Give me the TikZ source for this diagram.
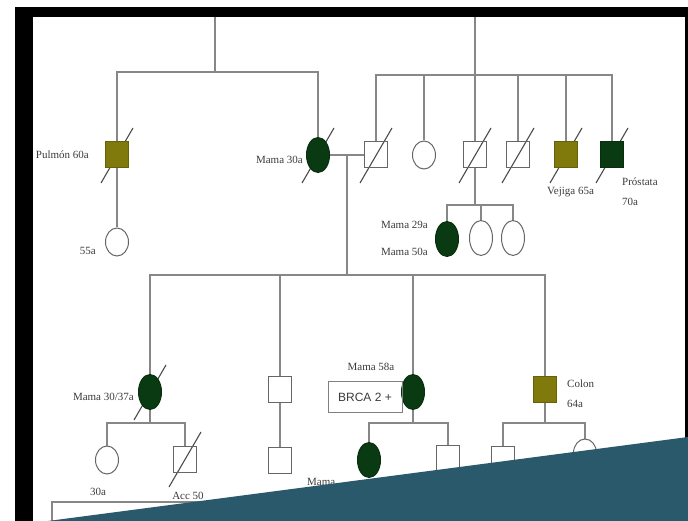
\documentclass[tikz,border=0pt]{standalone}
\usepackage{fontspec}
\setmainfont{Liberation Serif}
\newfontfamily\boxfont{Liberation Sans}
\usepackage{xcolor}
\usetikzlibrary{shapes.geometric}

\definecolor{affgreen}{RGB}{10,58,18}
\definecolor{affolive}{RGB}{128,122,12}
\definecolor{linegray}{RGB}{135,135,135}
\definecolor{txtgray}{RGB}{60,60,60}
\definecolor{slide}{RGB}{43,89,108}

\pgfdeclarelayer{back}
\pgfsetlayers{back,main}

\begin{document}
\begin{tikzpicture}[x=1pt,y=-1pt,
	male/.style={draw=black!60, rectangle, minimum width=23pt, minimum height=26pt, inner sep=0pt, line width=1pt},
	female/.style={draw=black!60, ellipse, minimum width=23pt, minimum height=28pt, inner sep=0pt, line width=1pt},
	tall/.style={minimum height=35pt},
	greenfill/.style={fill=affgreen, draw=affgreen!80!black},
	olivefill/.style={fill=affolive, draw=affolive!80!black},
	ped/.style={draw=linegray, line width=1.1pt},
	slash/.style={draw=black!70, line width=1.1pt},
	lbl/.style={font=\fontsize{11}{12}\selectfont, text=txtgray, inner sep=1pt}
]

\useasboundingbox (0,0) rectangle (688,521);

\begin{pgfonlayer}{back}
\fill[white] (0,0) rectangle (688,521);
\fill[black] (15,7) rectangle (688,17);
\fill[black] (15,7) rectangle (33,521);
\fill[black] (685,7) rectangle (688,521);
\end{pgfonlayer}

% first generation of children
\node[male, olivefill] (p1) at (117,155) {};
\node[female] (c55) at (117,242) {};
\node[female, greenfill, tall] (m30) at (318,155) {};
\node[male] (u1) at (376,155) {};
\node[female] (u2) at (424,155) {};
\node[male] (u3) at (475,155) {};
\node[male] (u4) at (518,155) {};
\node[male, olivefill] (u5) at (566,155) {};
\node[male, greenfill] (u6) at (612,155) {};

\node[female, greenfill, tall] (k1) at (447,239) {};
\node[female, tall] (k2) at (481,238) {};
\node[female, tall] (k3) at (513,238) {};

% second generation
\node[female, greenfill, tall] (g1) at (150,392) {};
\node[male] (g2) at (280,389) {};
\node[female, greenfill, tall] (g3) at (413,392) {};
\node[male, olivefill] (g4) at (545,389) {};

\node[female] (h1) at (107,460) {};
\node[male] (h2) at (185,459) {};
\node[male] (h3) at (280,460) {};
\node[female, greenfill, tall] (h4) at (369,460) {};
\node[male] (h5) at (448,458) {};
\node[male] (h6) at (503,459) {};
\node[female] (h7) at (585,453) {};

\coordinate (gp1) at (215,17);
\coordinate (gp2) at (475,17);
\coordinate (s1) at (215,72);
\coordinate (s2) at (475,75);
\coordinate (d1) at (347,155);
\coordinate (s3) at (347,275);
\coordinate (s4) at (475,205);
\coordinate (s5) at (150,423);
\coordinate (s6) at (413,423);
\coordinate (s7) at (545,423);

\begin{pgfonlayer}{back}
\draw[ped] (gp1) -- (s1);
\draw[ped] (p1.north) |- (s1) -| (m30.north);
\draw[ped] (p1.south) -- (c55.north);
\draw[ped] (gp2) -- (u3.north);
\draw[ped] (u1.north) |- (s2) -| (u6.north);
\foreach \n in {u2,u4,u5}
	\draw[ped] (\n.north) -- (\n.north |- s2);
\draw[ped] (m30.east) -- (u1.west);
\draw[ped] (d1) -- (s3);
\draw[ped] (g1.north) |- (s3) -| (g4.north);
\foreach \n in {g2,g3}
	\draw[ped] (\n.north) -- (\n.north |- s3);
\draw[ped] (u3.south) -- (s4);
\draw[ped] (k1.north) |- (s4) -| (k3.north);
\draw[ped] (k2.north) -- (k2.north |- s4);
\draw[ped] (g1.south) -- (s5);
\draw[ped] (h1.north) |- (s5) -| (h2.north);
\draw[ped] (g2.south) -- (h3.north);
\draw[ped] (g3.south) -- (s6);
\draw[ped] (h4.north) |- (s6) -| (h5.north);
\draw[ped] (g4.south) -- (s7);
\draw[ped] (h6.north) |- (s7) -| (h7.north);

% deceased
\foreach \n in {p1,m30,u1,u3,u4,u5,u6,g1,h2}
	\draw[slash] ([shift={(-16,28)}]\n.center) -- ([shift={(16,-27)}]\n.center);

\draw[ped] (52,521) |- (300,502);
\end{pgfonlayer}

\node[lbl, anchor=east] (t1) at (90,155) {Pulmón 60a};
\node[lbl, anchor=east] (t2) at (97,251) {55a};
\node[lbl, anchor=east] (t3) at (304,160) {Mama 30a};
\node[lbl, anchor=east] (t4) at (429,225) {Mama 29a};
\node[lbl, anchor=east] (t5) at (429,252) {Mama 50a};
\node[lbl, anchor=west] (t6) at (546,192) {Vejiga 65a};
\node[lbl, anchor=west] (t7) at (621,182) {Próstata};
\node[lbl, anchor=west] (t8) at (621,202) {70a};
\node[lbl, anchor=east] (t9) at (135,397) {Mama 30/37a};
\node[lbl] (t10) at (371,367) {Mama 58a};
\node[draw=black!50, line width=1pt, minimum width=74pt, minimum height=31pt, inner sep=0pt,
	font=\boxfont\fontsize{12}{12}\selectfont, text=txtgray] (brca) at (365,397) {BRCA 2 +};
\node[lbl, anchor=west] (t11) at (566,384) {Colon};
\node[lbl, anchor=west] (t12) at (566,404) {64a};
\node[lbl] (t13) at (98,492) {30a};
\node[lbl] (t14) at (188,496) {Acc 50};
\node[lbl, anchor=west] (t15) at (306,482) {Mama};

\fill[slide] (48,521) -- (688,437) -- (688,521) -- cycle;

\end{tikzpicture}
\end{document}
